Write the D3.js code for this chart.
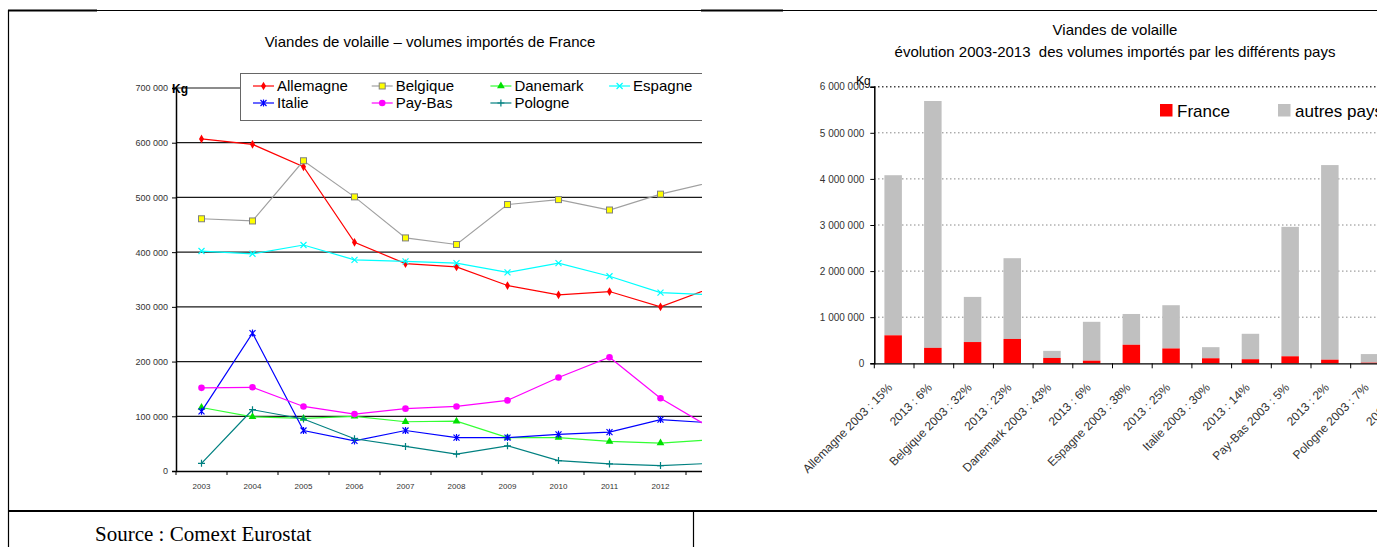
<!DOCTYPE html>
<html>
<head>
<meta charset="utf-8">
<script src="https://cdn.jsdelivr.net/npm/d3@7"></script>
<style>
body { margin: 0; background: #fff; }
svg { display: block; font-family: "Liberation Sans", Arial, sans-serif; }
</style>
</head>
<body>
<svg id="page" width="1377" height="547"></svg>
<script>
// left chart : volumes imported from France (kg)
var years = [2003, 2004, 2005, 2006, 2007, 2008, 2009, 2010, 2011, 2012, 2013];
var allemagne = [607000, 597000, 556000, 418000, 379000, 373000, 339000, 322000, 328000, 300000, 335000];
var belgique  = [461000, 457000, 567000, 501000, 426000, 414000, 487000, 496000, 477000, 506000, 528000];
var danemark  = [116000, 99000, 96000, 100000, 90000, 91000, 61000, 61000, 54000, 51000, 57000];
var espagne   = [402000, 397000, 413000, 386000, 383000, 380000, 363000, 380000, 356000, 326000, 322000];
var italie    = [109000, 252000, 74000, 55000, 74000, 61000, 61000, 67000, 71000, 94000, 88000];
var paysBas   = [152000, 153000, 118000, 104000, 114000, 118000, 129000, 171000, 208000, 133000, 78000];
var pologne   = [14000, 112000, 95000, 59000, 45000, 31000, 46000, 19000, 13000, 10000, 14000];
var leftTicks = [0, 100000, 200000, 300000, 400000, 500000, 600000, 700000];

// right chart : total imports, share coming from France
var barLabels = ["Allemagne 2003 : 15%", "2013 : 6%", "Belgique 2003 : 32%", "2013 : 23%",
                 "Danemark 2003 : 43%", "2013 : 6%", "Espagne 2003 : 38%", "2013 : 25%",
                 "Italie 2003 : 30%", "2013 : 14%", "Pay-Bas 2003 : 5%", "2013 : 2%",
                 "Pologne 2003 : 7%", "2013 : 1%"];
var franceVol = [607000, 335000, 461000, 528000, 116000, 57000, 402000, 322000, 109000, 88000, 152000, 78000, 14000, 14000];
var totalVol  = [4080000, 5690000, 1440000, 2280000, 270000, 900000, 1070000, 1260000, 350000, 640000, 2960000, 4300000, 200000, null];
var rightTicks = [0, 1000000, 2000000, 3000000, 4000000, 5000000, 6000000];

var fmt = d3.formatLocale({decimal: ",", thousands: " ", grouping: [3], currency: ["", ""]}).format(",");

var svg = d3.select("#page");

function marker(g, type, color) {
    var p;
    if (type == "diamond") {
        p = g.append("path").attr("d", d3.symbol(d3.symbolDiamond, 22)()).attr("fill", color);
    } else if (type == "square") {
        p = g.append("rect").attr("x", -3).attr("y", -3).attr("width", 6).attr("height", 6)
            .attr("fill", "#ffff00").attr("stroke", "#808080");
    } else if (type == "triangle") {
        p = g.append("path").attr("d", d3.symbol(d3.symbolTriangle, 26)()).attr("fill", color);
    } else if (type == "x") {
        p = g.append("path").attr("d", "M-3,-3L3,3M-3,3L3,-3").attr("stroke", color).attr("stroke-width", 1.2);
    } else if (type == "star") {
        p = g.append("path").attr("d", "M-3,-3L3,3M-3,3L3,-3M0,-3.5L0,3.5").attr("stroke", color).attr("stroke-width", 1.2);
    } else if (type == "circle") {
        p = g.append("circle").attr("r", 3.3).attr("fill", color);
    } else if (type == "plus") {
        p = g.append("path").attr("d", "M-3.5,0L3.5,0M0,-3.5L0,3.5").attr("stroke", color).attr("stroke-width", 1.2);
    }
    return p;
}

function setup_frame() {
    svg.append("line").attr("x1", 8).attr("x2", 1377).attr("y1", 10.5).attr("y2", 10.5)
        .attr("stroke", "#000").attr("stroke-width", 1);
    svg.append("line").attr("x1", 8).attr("x2", 97).attr("y1", 10.5).attr("y2", 10.5)
        .attr("stroke", "#000").attr("stroke-width", 2);
    svg.append("line").attr("x1", 701).attr("x2", 783).attr("y1", 10.5).attr("y2", 10.5)
        .attr("stroke", "#000").attr("stroke-width", 2);
    svg.append("line").attr("x1", 8.5).attr("x2", 8.5).attr("y1", 10).attr("y2", 547)
        .attr("stroke", "#000").attr("stroke-width", 1.2);
    svg.append("line").attr("x1", 8).attr("x2", 1377).attr("y1", 511).attr("y2", 511)
        .attr("stroke", "#000").attr("stroke-width", 2);
    svg.append("line").attr("x1", 693.5).attr("x2", 693.5).attr("y1", 511).attr("y2", 547)
        .attr("stroke", "#000").attr("stroke-width", 1.2);
    svg.append("text").attr("x", 95).attr("y", 541)
        .style("font-family", "'Liberation Serif', 'Times New Roman', serif").style("font-size", "21px")
        .text("Source : Comext Eurostat");
}

function setup_left() {
    svg.append("clipPath").attr("id", "clipLeft").append("rect")
        .attr("x", 9).attr("y", 12).attr("width", 693).attr("height", 497);
    var g = svg.append("g").attr("clip-path", "url(#clipLeft)");

    var x = d3.scaleBand().domain(years).range([176, 176 + 51 * years.length]),
        y = d3.scaleLinear().domain([0, 700000]).range([471, 88]);

    g.append("text").attr("x", 430).attr("y", 47).attr("text-anchor", "middle")
        .style("font-size", "15px").text("Viandes de volaille \u2013 volumes importés de France");

    g.append("g").selectAll("line").data(leftTicks.slice(1)).enter().append("line")
        .attr("x1", 176).attr("x2", 740).attr("y1", d => y(d)).attr("y2", d => y(d))
        .attr("stroke", "#1a1a1a").attr("stroke-width", 1.2);

    var ya = g.append("g").attr("transform", "translate(176,0)")
        .call(d3.axisLeft(y).tickValues(leftTicks).tickSize(4).tickPadding(4).tickFormat(fmt));
    ya.select(".domain").attr("stroke", "#000").attr("stroke-width", 1.5);
    ya.selectAll("text").style("font-size", "9px").attr("fill", "#333");

    var xa = g.append("g").attr("transform", "translate(0,471)")
        .call(d3.axisBottom(x).tickSize(0).tickPadding(12));
    xa.select(".domain").attr("stroke", "#000").attr("stroke-width", 1.5);
    xa.selectAll("text").style("font-size", "8px").attr("fill", "#333");
    xa.selectAll(".edge").data(years).enter().append("line").classed("edge", true)
        .attr("x1", d => x(d)).attr("x2", d => x(d)).attr("y1", 0).attr("y2", 4).attr("stroke", "#000");

    g.append("text").attr("x", 172).attr("y", 93).style("font-size", "12px").style("font-weight", "bold").text("Kg");

    var series = [
        {name: "Allemagne", values: allemagne, color: "#ff0000", line: "#ff0000", marker: "diamond"},
        {name: "Belgique", values: belgique, color: "#808080", line: "#a0a0a0", marker: "square"},
        {name: "Danemark", values: danemark, color: "#00e000", line: "#33ff33", marker: "triangle"},
        {name: "Espagne", values: espagne, color: "#00ffff", line: "#00ffff", marker: "x"},
        {name: "Italie", values: italie, color: "#0000ff", line: "#0000ff", marker: "star"},
        {name: "Pay-Bas", values: paysBas, color: "#ff00ff", line: "#ff00ff", marker: "circle"},
        {name: "Pologne", values: pologne, color: "#008080", line: "#008080", marker: "plus"}
    ];

    var line = d3.line().x((d, i) => x(years[i]) + x.bandwidth() / 2).y(d => y(d));

    series.forEach(s => {
        g.append("path").attr("d", line(s.values)).attr("fill", "none")
            .attr("stroke", s.line).attr("stroke-width", 1.2);
        s.values.forEach((v, i) => {
            var m = g.append("g").attr("transform", "translate(" + [x(years[i]) + x.bandwidth() / 2, y(v)] + ")");
            marker(m, s.marker, s.color);
        });
    });

    // legend
    var lg = g.append("g");
    lg.append("rect").attr("x", 240.5).attr("y", 73.5).attr("width", 520).attr("height", 47)
        .attr("fill", "#fff").attr("stroke", "#666");
    series.forEach((s, i) => {
        var col = i < 4 ? i : i - 4,
            row = i < 4 ? 0 : 1,
            lx = 253 + col * 118.7,
            ly = 86 + row * 17;
        lg.append("line").attr("x1", lx).attr("x2", lx + 21).attr("y1", ly).attr("y2", ly)
            .attr("stroke", s.line).attr("stroke-width", 1.2);
        var m = lg.append("g").attr("transform", "translate(" + [lx + 10.5, ly] + ")");
        marker(m, s.marker, s.color);
        lg.append("text").attr("x", lx + 24).attr("y", ly + 5).style("font-size", "15px").text(s.name);
    });
}

function setup_right() {
    var g = svg.append("g");
    var x = d3.scaleBand().domain(d3.range(barLabels.length)).range([874.3, 874.3 + 39.7 * barLabels.length]),
        y = d3.scaleLinear().domain([0, 6000000]).range([363.3, 86.7]),
        bw = 17.5;

    g.append("text").attr("x", 1115).attr("y", 34.5).attr("text-anchor", "middle")
        .style("font-size", "15px").text("Viandes de volaille");
    g.append("text").attr("x", 1115).attr("y", 56.5).attr("text-anchor", "middle")
        .style("font-size", "15px").style("white-space", "pre")
        .text("évolution 2003-2013  des volumes importés par les différents pays");

    g.append("g").selectAll("line").data(rightTicks.slice(1)).enter().append("line")
        .attr("x1", 874).attr("x2", 1377).attr("y1", d => y(d)).attr("y2", d => y(d))
        .attr("stroke", d => d == 6000000 ? "#444" : "#888")
        .attr("stroke-width", d => d == 6000000 ? 1.5 : 1)
        .attr("stroke-dasharray", "1.5,2.5");

    var data = barLabels.map((l, i) => ({i: i, france: franceVol[i], total: totalVol[i]}));

    g.append("g").selectAll("rect").data(data.filter(d => d.total != null)).enter().append("rect")
        .attr("x", d => x(d.i) + x.bandwidth() / 2 - 1 - bw / 2).attr("width", bw)
        .attr("y", d => y(d.total)).attr("height", d => y(d.france) - y(d.total))
        .attr("fill", "#c0c0c0");
    g.append("g").selectAll("rect").data(data).enter().append("rect")
        .attr("x", d => x(d.i) + x.bandwidth() / 2 - 1 - bw / 2).attr("width", bw)
        .attr("y", d => y(d.france)).attr("height", d => y(0) - y(d.france))
        .attr("fill", "#ff0000");

    var ya = g.append("g").attr("transform", "translate(874.3,0)")
        .call(d3.axisLeft(y).tickValues(rightTicks).tickSize(4).tickPadding(6).tickFormat(fmt));
    ya.select(".domain").attr("stroke", "#000").attr("stroke-width", 1.5);
    ya.selectAll("text").style("font-size", "10px").attr("fill", "#333");

    var xa = g.append("g").attr("transform", "translate(0,363.3)")
        .call(d3.axisBottom(x).tickSize(0).tickFormat(i => barLabels[i]));
    xa.select(".domain").attr("stroke", "#000").attr("stroke-width", 1.2);
    xa.selectAll("text").style("font-size", "12px").attr("fill", "#333")
        .attr("text-anchor", "end").attr("dy", null)
        .attr("transform", "translate(" + [-1, 25] + ") rotate(-45)").attr("y", 0).attr("x", 0);
    xa.selectAll(".edge").data(barLabels).enter().append("line").classed("edge", true)
        .attr("x1", (d, i) => x(i)).attr("x2", (d, i) => x(i)).attr("y1", 0).attr("y2", 5).attr("stroke", "#000");

    g.append("text").attr("x", 856).attr("y", 85).style("font-size", "12px").text("Kg");

    // legend
    g.append("rect").attr("x", 1160).attr("y", 104).attr("width", 12.5).attr("height", 12.5).attr("fill", "#ff0000");
    g.append("text").attr("x", 1177).attr("y", 117).style("font-size", "17px").text("France");
    g.append("rect").attr("x", 1278).attr("y", 104).attr("width", 12.5).attr("height", 12.5).attr("fill", "#c0c0c0");
    g.append("text").attr("x", 1295).attr("y", 117).style("font-size", "17px").text("autres pays");
}

setup_frame();
setup_left();
setup_right();
</script>
</body>
</html>
